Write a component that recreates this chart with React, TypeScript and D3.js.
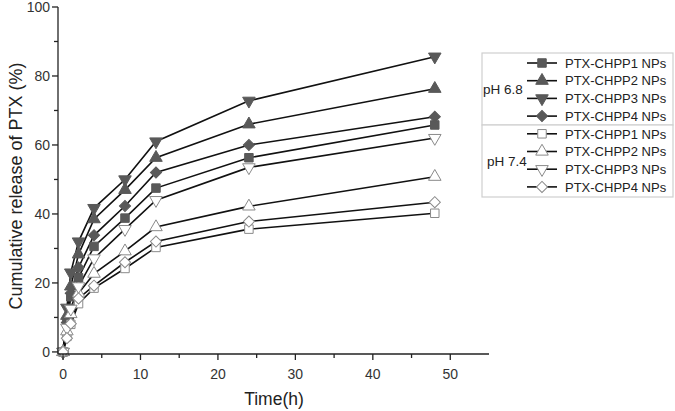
import React from "react";
import * as d3 from "d3";

const times = [0, 0.5, 1, 2, 4, 8, 12, 24, 48];

const chpp1_68 = [0, 8.5, 16, 21.5, 30.6, 38.8, 47.5, 56.3, 65.8];
const chpp2_68 = [0, 10.5, 19, 28.3, 38.5, 47, 56.3, 66, 76.3];
const chpp3_68 = [0, 12.8, 23, 32, 41.7, 50, 61, 72.8, 85.6];
const chpp4_68 = [0, 8.5, 17, 24.5, 33.8, 42.3, 52, 60, 68.2];
const chpp1_74 = [0, 4.5, 8, 14, 18.5, 24.2, 30.3, 35.6, 40.2];
const chpp2_74 = [0, 6, 11, 17, 22.7, 29.2, 36.2, 42.2, 50.8];
const chpp3_74 = [0, 7, 12.5, 19, 27.1, 35.6, 44, 53.5, 62];
const chpp4_74 = [0, 4, 8.2, 15.5, 19.2, 26, 32, 37.8, 43.4];

const seriesNames = ["PTX-CHPP1 NPs", "PTX-CHPP2 NPs", "PTX-CHPP3 NPs", "PTX-CHPP4 NPs"];
const groupLabels = ["pH 6.8", "pH 7.4"];
const xTicks = [0, 10, 20, 30, 40, 50];
const yTicks = [0, 20, 40, 60, 80, 100];

type Shape = "square" | "up" | "down" | "diamond";
const shapes: Shape[] = ["square", "up", "down", "diamond"];

const groups = [
  { label: groupLabels[0], filled: true, data: [chpp1_68, chpp2_68, chpp3_68, chpp4_68] },
  { label: groupLabels[1], filled: false, data: [chpp1_74, chpp2_74, chpp3_74, chpp4_74] },
];

const W = 675;
const H = 411;
const font = "'Liberation Sans', Arial, sans-serif";

const x = d3.scaleLinear().domain([-0.65, 55]).range([58, 489]);
const y = d3.scaleLinear().domain([-0.6, 100]).range([354, 7]);

function markerPath(shape: Shape): { d: string; rot: number } {
  if (shape === "square") return { d: d3.symbol(d3.symbolSquare, 72)() as string, rot: 0 };
  if (shape === "up") return { d: d3.symbol(d3.symbolTriangle, 68)() as string, rot: 0 };
  if (shape === "down") return { d: d3.symbol(d3.symbolTriangle, 68)() as string, rot: 180 };
  return { d: d3.symbol(d3.symbolSquare, 62)() as string, rot: 45 };
}

function Marker({ shape, filled, cx, cy }: { shape: Shape; filled: boolean; cx: number; cy: number }) {
  const m = markerPath(shape);
  return (
    <path
      d={m.d}
      transform={`translate(${cx},${cy}) rotate(${m.rot})`}
      fill={filled ? "#595959" : "#ffffff"}
      stroke={filled ? "#595959" : "#8a8a8a"}
      strokeWidth={1}
    />
  );
}

export default function App() {
  const line = d3
    .line<number>()
    .x((_, i) => x(times[i]))
    .y((v) => y(v));

  const xMinor = d3.range(5, 55, 10);
  const yMinor = d3.range(10, 100, 20);

  const legendX = 482;
  const legendTop = 53;
  const rowH = 17.7;
  const legendRows = (gi: number, ri: number) => legendTop + 10 + (gi * 4 + ri) * rowH;

  return (
    <svg width={W} height={H} style={{ position: "absolute", left: 0, top: 0, background: "#fff" }}>
      {/* series lines */}
      {groups.map((g, gi) =>
        g.data.map((vals, si) => (
          <path key={`l${gi}${si}`} d={line(vals) as string} fill="none" stroke="#111" strokeWidth={1.6} />
        ))
      )}
      {/* series markers */}
      {groups.map((g, gi) =>
        g.data.map((vals, si) =>
          vals.map((v, i) => (
            <Marker key={`m${gi}${si}${i}`} shape={shapes[si]} filled={g.filled} cx={x(times[i])} cy={y(v)} />
          ))
        )
      )}

      {/* axes */}
      <line x1={x.range()[0]} x2={x.range()[1]} y1={354} y2={354} stroke="#222" strokeWidth={1.3} />
      <line x1={58} x2={58} y1={y.range()[0]} y2={y.range()[1]} stroke="#222" strokeWidth={1.3} />
      {xTicks.map((t) => (
        <g key={`xt${t}`}>
          <line x1={x(t)} x2={x(t)} y1={354} y2={360} stroke="#222" strokeWidth={1.3} />
          <text x={x(t)} y={379} textAnchor="middle" fontFamily={font} fontSize={14} fill="#333">
            {t}
          </text>
        </g>
      ))}
      {xMinor.map((t) => (
        <line key={`xm${t}`} x1={x(t)} x2={x(t)} y1={354} y2={358} stroke="#222" strokeWidth={1.3} />
      ))}
      {yTicks.map((t) => (
        <g key={`yt${t}`}>
          <line x1={52} x2={58} y1={y(t)} y2={y(t)} stroke="#222" strokeWidth={1.3} />
          <text x={50} y={y(t) + 5} textAnchor="end" fontFamily={font} fontSize={14} fill="#333">
            {t}
          </text>
        </g>
      ))}
      {yMinor.map((t) => (
        <line key={`ym${t}`} x1={54} x2={58} y1={y(t)} y2={y(t)} stroke="#222" strokeWidth={1.3} />
      ))}

      <text
        transform={`translate(22,186) rotate(-90)`}
        textAnchor="middle"
        fontFamily={font}
        fontSize={18}
        fill="#222"
      >
        Cumulative release of PTX (%)
      </text>
      <text x={274} y={405} textAnchor="middle" fontFamily={font} fontSize={17.5} fill="#222">
        Time(h)
      </text>

      {/* legend */}
      <rect x={legendX} y={legendTop} width={191} height={72} fill="#fff" stroke="#cfcfcf" strokeWidth={1.2} />
      <rect x={legendX} y={legendTop + 72} width={191} height={72} fill="#fff" stroke="#cfcfcf" strokeWidth={1.2} />
      {groups.map((g, gi) => (
        <g key={`lg${gi}`}>
          <text
            x={legendX + (gi === 0 ? 1 : 5)}
            y={legendTop + 36 + gi * 72 + 5}
            fontFamily={font}
            fontSize={13.5}
            fill="#222"
          >
            {g.label}
          </text>
          {seriesNames.map((name, si) => {
            const ry = legendRows(gi, si);
            return (
              <g key={`lr${gi}${si}`}>
                <line x1={527} x2={557} y1={ry} y2={ry} stroke="#111" strokeWidth={1.6} />
                <Marker shape={shapes[si]} filled={g.filled} cx={542} cy={ry} />
                <text x={565} y={ry + 4.7} fontFamily={font} fontSize={13} fill="#222">
                  {name}
                </text>
              </g>
            );
          })}
        </g>
      ))}
    </svg>
  );
}
